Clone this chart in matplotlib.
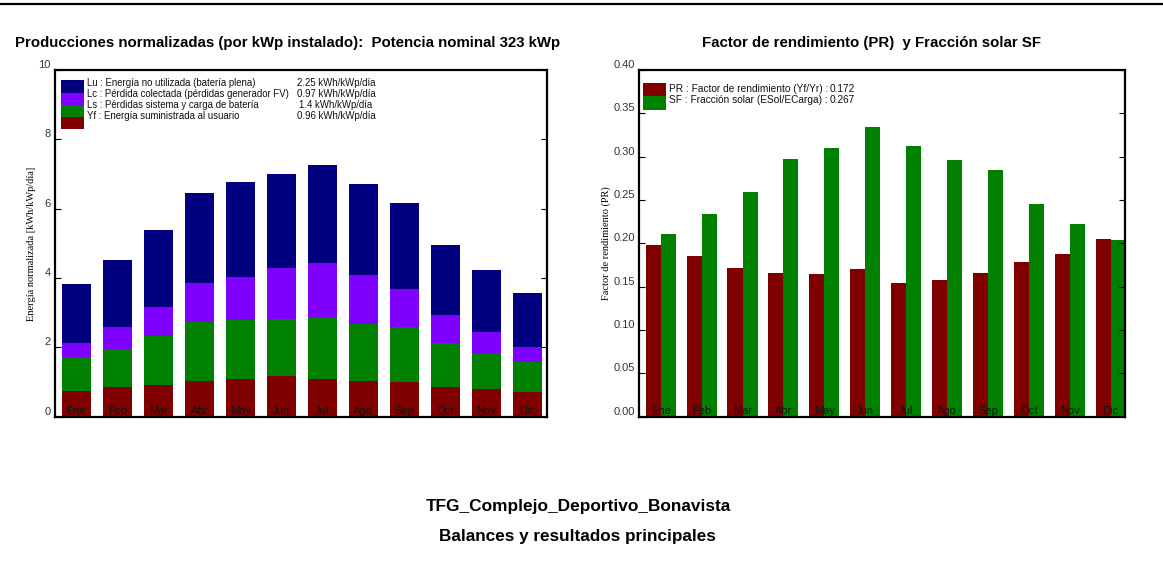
import matplotlib
matplotlib.use("Agg")
import matplotlib.pyplot as plt
from matplotlib.patches import Rectangle
from matplotlib.lines import Line2D
import numpy as np

months = ["Ene", "Feb", "Mar", "Abr", "May", "Jun", "Jul", "Ago", "Sep", "Oct", "Nov", "Dic"]

# Normalized productions [kWh/kWp/day]
Yf = [0.75, 0.85, 0.92, 1.04, 1.10, 1.18, 1.10, 1.04, 1.01, 0.87, 0.79, 0.72]
Ls = [0.98, 1.10, 1.41, 1.72, 1.70, 1.63, 1.77, 1.64, 1.57, 1.25, 1.05, 0.89]
Lc = [0.40, 0.63, 0.83, 1.09, 1.22, 1.47, 1.56, 1.40, 1.10, 0.81, 0.60, 0.41]
Lu = [1.69, 1.93, 2.23, 2.61, 2.76, 2.73, 2.84, 2.64, 2.49, 2.01, 1.78, 1.54]

# Performance ratio and solar fraction
PR = [0.198, 0.186, 0.172, 0.166, 0.165, 0.170, 0.154, 0.158, 0.166, 0.178, 0.188, 0.205]
SF = [0.211, 0.234, 0.259, 0.297, 0.310, 0.334, 0.312, 0.296, 0.285, 0.245, 0.222, 0.204]

legend_left = [
    ("Lu : Energía no utilizada (batería plena)", "2.25 kWh/kWp/día"),
    ("Lc : Pérdida colectada (pérdidas generador FV)", "0.97 kWh/kWp/día"),
    ("Ls : Pérdidas sistema y carga de batería", "1.4 kWh/kWp/día"),
    ("Yf : Energía suministrada al usuario", "0.96 kWh/kWp/día"),
]
legend_right = [
    ("PR : Factor de rendimiento (Yf/Yr) :", "0.172"),
    ("SF : Fracción solar (ESol/ECarga) :", "0.267"),
]

C_LU = "#000080"
C_LC = "#8000ff"
C_LS = "#008000"
C_YF = "#800000"

W, H = 1163, 562
fig = plt.figure(figsize=(W / 100, H / 100), dpi=100)
plt.rcParams['font.family'] = ['Liberation Sans', 'DejaVu Sans']


def pax(ax, box, x, y):
    # pixel -> axes fraction
    l, t, r, b = box
    return (x - l) / (r - l), (b - y) / (b - t)


boxL = (55, 70, 547, 416.8)
boxR = (639, 70, 1125, 416.8)


def make_ax(box):
    l, t, r, b = box
    return fig.add_axes([l / W, 1 - b / H, (r - l) / W, (b - t) / H])


axL = make_ax(boxL)
axR = make_ax(boxR)

x = np.arange(len(months))

# Left stacked chart
yf = np.array(Yf); ls = np.array(Ls); lc = np.array(Lc); lu = np.array(Lu)
bw = 0.72
axL.bar(x, yf, bw, color=C_YF, zorder=1)
axL.bar(x, ls, bw, bottom=yf, color=C_LS, zorder=1)
axL.bar(x, lc, bw, bottom=yf + ls, color=C_LC, zorder=1)
axL.bar(x, lu, bw, bottom=yf + ls + lc, color=C_LU, zorder=1)
axL.set_xlim(-0.52, 11.48)
axL.set_ylim(0, 10)
axL.set_yticks([0, 2, 4, 6, 8, 10])
axL.set_yticklabels(["0", "2", "4", "6", "8", "10"])

# Right grouped chart
w2 = 0.367
axR.bar(x - w2 / 2, PR, w2, color=C_YF, zorder=1)
axR.bar(x + w2 / 2, SF, w2, color=C_LS, zorder=1)
axR.set_xlim(-0.53, 11.35)
axR.set_ylim(0, 0.40)
rt = [0.0, 0.05, 0.10, 0.15, 0.20, 0.25, 0.30, 0.35, 0.40]
axR.set_yticks(rt)
axR.set_yticklabels([f"{v:.2f}" for v in rt])

for ax in (axL, axR):
    ax.set_xticks(x)
    ax.set_xticklabels(months)
    ax.tick_params(axis='x', length=0, pad=-7.5, labelsize=8, labelcolor='#111111')
    ax.tick_params(axis='y', direction='in', length=4, width=0.8, right=True,
                   labelsize=8, labelcolor='#333333', pad=3)
    for t in ax.get_yticklabels():
        t.set_verticalalignment('bottom')
    for s in ax.spines.values():
        s.set_linewidth(1.6)
        s.set_color('black')

axL.set_ylabel("Energía normalizada [kWh/kWp/día]", family=['Liberation Serif', 'DejaVu Serif'],
               fontsize=7.5, labelpad=2)
axR.set_ylabel("Factor de rendimiento (PR)", family=['Liberation Serif', 'DejaVu Serif'],
               fontsize=7.5, labelpad=2)

LFS = 6.9
# Left legend
lcolors = [C_LU, C_LC, C_LS, C_YF]
box_edges = [79.5, 93, 105, 117, 129]
text_y = [83.5, 94, 105, 116]
for i, ((lab, val), c) in enumerate(zip(legend_left, lcolors)):
    x0, y0 = pax(axL, boxL, 61, box_edges[i + 1])
    x1, y1 = pax(axL, boxL, 84, box_edges[i])
    axL.add_patch(Rectangle((x0, y0), x1 - x0, y1 - y0, transform=axL.transAxes,
                            facecolor=c, edgecolor='none', zorder=3))
    tx, ty = pax(axL, boxL, 87, text_y[i])
    axL.text(tx, ty, lab, transform=axL.transAxes, fontsize=LFS, va='center', ha='left',
             color='#111111', zorder=4)
    vx, vy = pax(axL, boxL, 336, text_y[i])
    axL.text(vx, vy, val, transform=axL.transAxes, fontsize=LFS, va='center', ha='center',
             color='#111111', zorder=4)

# Right legend
RFS = 7.3
rcolors = [C_YF, C_LS]
rbox_edges = [83, 96, 109.5]
rtext_y = [89, 100]
for i, ((lab, val), c) in enumerate(zip(legend_right, rcolors)):
    x0, y0 = pax(axR, boxR, 643, rbox_edges[i + 1])
    x1, y1 = pax(axR, boxR, 666, rbox_edges[i])
    axR.add_patch(Rectangle((x0, y0), x1 - x0, y1 - y0, transform=axR.transAxes,
                            facecolor=c, edgecolor='none', zorder=3))
    tx, ty = pax(axR, boxR, 669, rtext_y[i])
    axR.text(tx, ty, lab, transform=axR.transAxes, fontsize=RFS, va='center', ha='left',
             color='#111111', zorder=4)
    vx, vy = pax(axR, boxR, 855, rtext_y[i])
    axR.text(vx, vy, val, transform=axR.transAxes, fontsize=RFS, va='center', ha='right',
             color='#111111', zorder=4)

# Titles
fig.text(288 / W, 1 - 43 / H, "Producciones normalizadas (por kWp instalado):  Potencia nominal 323 kWp",
         ha='center', va='center', fontsize=10.8, fontweight='bold')
fig.text(871 / W, 1 - 43 / H, "Factor de rendimiento (PR)  y Fracción solar SF",
         ha='center', va='center', fontsize=10.8, fontweight='bold')
fig.text(578 / W, 1 - 507 / H, "TFG_Complejo_Deportivo_Bonavista",
         ha='center', va='center', fontsize=12.4, fontweight='bold')
fig.text(577 / W, 1 - 536 / H, "Balances y resultados principales",
         ha='center', va='center', fontsize=12.3, fontweight='bold')

fig.add_artist(Line2D([0, 1], [1 - 4 / H, 1 - 4 / H], color='black', linewidth=1.6,
                      transform=fig.transFigure))

fig.savefig("out.png", dpi=100)
